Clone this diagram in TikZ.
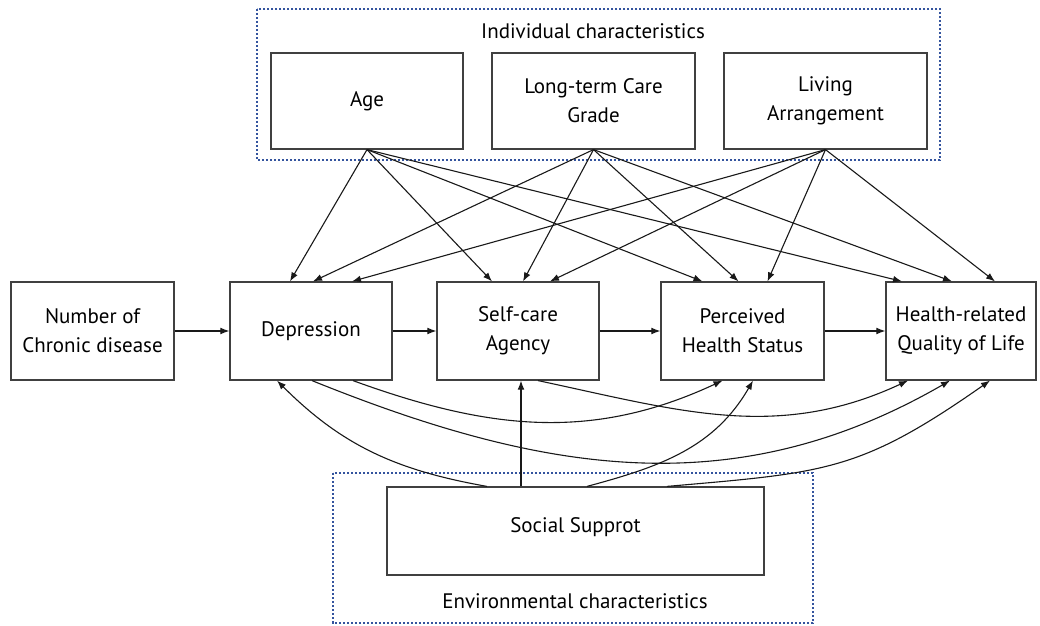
\documentclass[tikz,border=0pt]{standalone}
\usepackage{fontspec}
\setmainfont{PT Sans}
\usetikzlibrary{arrows.meta,calc}
\definecolor{azul}{RGB}{52,84,158}

\begin{document}
\begin{tikzpicture}[x=0.5pt,y=-0.5pt,
  font=\fontsize{10.5}{14.5}\selectfont,
  box/.style={draw=black!75,line width=0.6pt,align=center,inner sep=2pt},
  grupo/.style={draw=azul,line width=1.3pt,dash pattern=on 1.1pt off 0.9pt},
  arr/.style={-{Latex[length=4.5pt,width=3.4pt]},line width=0.55pt,black!90}]

\useasboundingbox (0,0) rectangle (1040,626);

% --- Individual characteristics ---
\draw[grupo] (257,9) rectangle (940,160);
\node (indiv) at (593,31) {Individual characteristics};

\node[box,minimum width=96pt,minimum height=48pt] (age) at (367,101) {Age};
\node[box,minimum width=101.5pt,minimum height=48pt] (ltc) at (593.5,101) {Long-term Care\\Grade};
\node[box,minimum width=101.5pt,minimum height=48pt] (living) at (825.5,101) {Living\\Arrangement};

% --- middle row ---
\node[box,minimum width=81.5pt,minimum height=49pt] (ncd) at (92.5,331) {Number of\\Chronic disease};
\node[box,minimum width=81pt,minimum height=49pt] (dep) at (311,331) {Depression};
\node[box,minimum width=81pt,minimum height=49pt] (sca) at (518,331) {Self-care\\Agency};
\node[box,minimum width=81.5pt,minimum height=49pt] (phs) at (742.5,331) {Perceived\\Health Status};
\node[box,minimum width=75pt,minimum height=49pt] (hrq) at (961,331) {Health-related\\Quality of Life};

% --- Environmental characteristics ---
\draw[grupo] (333,473) rectangle (813,623);
\node[box,minimum width=188.5pt,minimum height=44pt,text depth=6pt] (ss) at (575.5,531) {Social Supprot};
\node (env) at (575,601) {Environmental characteristics};

% flechas horizontales
\draw[arr] (ncd) -- (dep);
\draw[arr] (dep) -- (sca);
\draw[arr] (sca) -- (phs);
\draw[arr] (phs) -- (hrq);

% flechas desde las caracteristicas individuales
\foreach \src/\dst/\dx in {age/dep/-21, ltc/dep/2, living/dep/41,
                           age/sca/-26, ltc/sca/5, living/sca/32,
                           age/phs/-40, ltc/phs/-4, living/phs/25,
                           age/hrq/-59, ltc/hrq/-9, living/hrq/34}
  \draw[arr] (\src.south) -- ($(\dst.north)+(\dx,0)$);

% curvas por debajo
\draw[arr] ($(dep.south)+(42,0)$) to[out=-20,in=-155] ($(phs.south)+(-20,0)$);
\draw[arr] ($(dep.south)+(1,0)$) to[out=-22,in=-150] ($(hrq.south)+(-11,0)$);
\draw[arr] ($(sca.south)+(20,0)$) to[out=-12,in=-155] ($(hrq.south)+(-53,0)$);

% flechas desde el apoyo social
\draw[arr] ($(ss.north)+(-88.5,0)$) to[out=170,in=-45] ($(dep.south)+(-34,0)$);
\draw[arr] ($(ss.north)+(-54.5,0)$) -- ($(sca.south)+(3,0)$);
\draw[arr] ($(ss.north)+(11.5,0)$) to[out=15,in=-120] ($(phs.south)+(10.5,0)$);
\draw[arr] ($(ss.north)+(91.5,0)$) to[out=5,in=-145,looseness=1.2] ($(hrq.south)+(29,0)$);

\end{tikzpicture}
\end{document}
